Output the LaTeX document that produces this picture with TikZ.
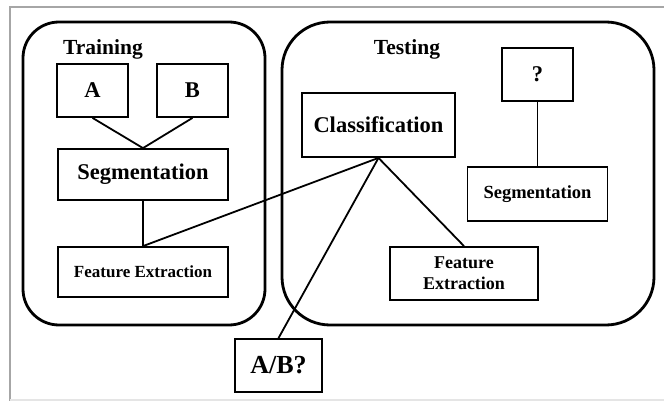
\documentclass[tikz,border=0pt]{standalone}
\usepackage{fontspec}
\setmainfont{Liberation Serif}
\begin{document}
\begin{tikzpicture}[x=1pt,y=-1pt,
  box/.style={draw, line width=1.8pt, inner sep=0pt, align=center},
  group/.style={draw, line width=2.8pt, rounded corners=#1, inner sep=0pt},
  link/.style={line width=1.8pt},
  fs/.style={font=\fontsize{#1}{21}\selectfont\bfseries},
  title/.style={anchor=base, fs=21.5}]
  \useasboundingbox (0,0) rectangle (664,401);

  % page frame
  \draw[gray!70, line width=1.5pt] (10,401) -- (10,7) -- (664,7);
  \draw[gray!20, line width=1.2pt] (10,400) -- (664,400);

  % the two stages
  \node[group=36pt, minimum width=242pt, minimum height=303pt] (trainbox) at (144,173.5) {};
  \node[group=48pt, minimum width=372pt, minimum height=303pt] (testbox) at (468,173.5) {};
  \node[title] (trainlbl) at (103,55) {Training};
  \node[title] (testlbl) at (407,55) {Testing};

  % training stage
  \node[box, fs=22.5, minimum width=71pt, minimum height=53pt] (a) at (92.5,90.5) {A};
  \node[box, fs=22.5, minimum width=71pt, minimum height=53pt] (b) at (192.5,90.5) {B};
  \node[box, fs=22.5, minimum width=170pt, minimum height=51pt] (seg1) at (143,174.5) {Segmentation};
  \node[box, fs=17, minimum width=170pt, minimum height=50pt] (fe1) at (143,272) {Feature Extraction};

  % testing stage
  \node[box, fs=22.5, minimum width=153pt, minimum height=64pt] (cls) at (378.5,125) {Classification};
  \node[box, fs=22.5, minimum width=71pt, minimum height=53pt] (q) at (537.5,74.5) {?};
  \node[box, fs=18.5, minimum width=140pt, minimum height=54pt] (seg2) at (537.5,194) {Segmentation};
  \node[box, fs=18, minimum width=148pt, minimum height=53pt] (fe2) at (464,273.5) {Feature\\Extraction};

  % result
  \node[box, fs=26, minimum width=87pt, minimum height=53pt] (ab) at (278.5,365.5) {A/B?};

  % connections
  \draw[link] (a.south) -- (seg1.north);
  \draw[link] (b.south) -- (seg1.north);
  \draw[link] (seg1.south) -- (fe1.north);
  \draw[link] (q.south) -- (seg2.north);
  \draw[link] (fe1.north) -- (cls.south);
  \draw[link] (cls.south) -- (fe2.north);
  \draw[link] (cls.south) -- (ab.north);
\end{tikzpicture}
\end{document}
